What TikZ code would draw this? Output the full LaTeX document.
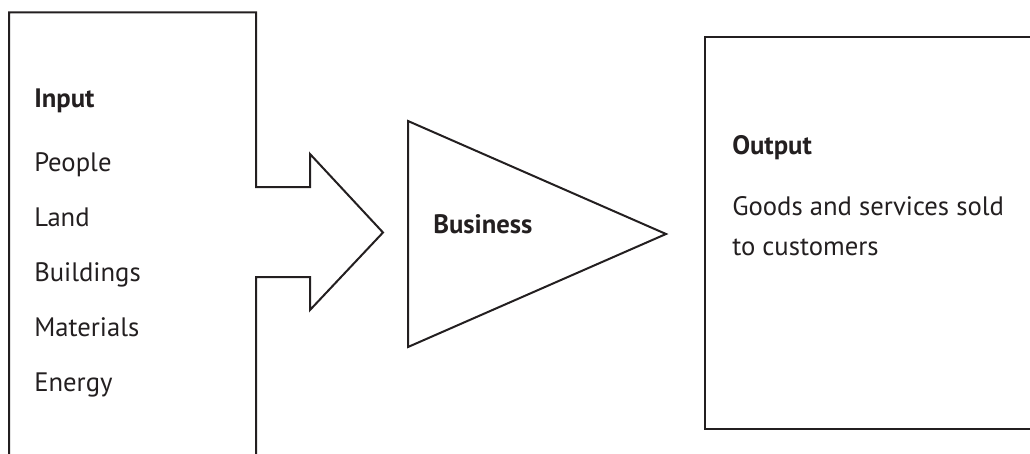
\documentclass[tikz,border=0pt]{standalone}
\usepackage{fontspec}
\setmainfont{PT Sans}
\usepackage{xcolor}
\usepackage{tikz}
\definecolor{ink}{HTML}{231F20}
\tikzset{
  lbl/.style={anchor=base west,inner sep=0pt,text=ink,font=\fontsize{20}{24}\selectfont},
  outline/.style={draw=ink,line width=1.5pt,line join=miter}
}
\begin{document}
\begin{tikzpicture}[x=0.75pt,y=0.75pt,yscale=-1,xscale=1]
\clip (0,0) rectangle (1030,453);
%Shape: Input box with arrow
\draw [outline]  (9,460) -- (9,12.5) -- (256,12.5) -- (256,187) -- (310,187) -- (310,154) -- (383,232.5) -- (310,310) -- (310,277) -- (256,277) -- (256,460) ;
%Shape: Triangle
\draw [outline]  (408,121) -- (666,234) -- (408,347) -- cycle ;
%Shape: Output box
\draw [outline]  (1040,37) -- (705,37) -- (705,428.5) -- (1040,428.5) ;
% Text Node
\node [lbl] (input) at (34,107) {\bfseries Input};
% Text Node
\node [lbl] (people) at (34,171) {People};
% Text Node
\node [lbl] (land) at (34,226) {Land};
% Text Node
\node [lbl] (buildings) at (34,281) {Buildings};
% Text Node
\node [lbl] (materials) at (34,336.5) {Materials};
% Text Node
\node [lbl] (energy) at (34,391) {Energy};
% Text Node
\node [lbl] (business) at (433,233) {\bfseries Business};
% Text Node
\node [lbl] (output) at (732,154) {\bfseries Output};
% Text Node
\node [lbl] (goods) at (732,215) {Goods and services sold};
% Text Node
\node [lbl] (customers) at (732,255) {to customers};
\end{tikzpicture}
\end{document}
